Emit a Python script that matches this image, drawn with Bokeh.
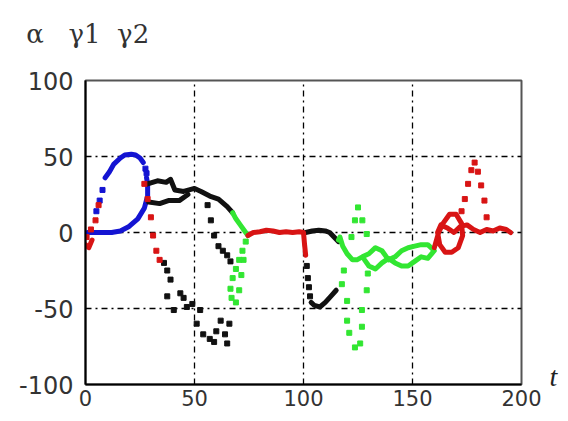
from bokeh.plotting import figure
from bokeh.models import Range1d, FixedTicker, LinearAxis
from bokeh.embed import file_html
from bokeh.resources import INLINE

# ---- data ----
x_ticks = [0, 50, 100, 150, 200]
y_ticks = [-100, -50, 0, 50, 100]
y_tick_labels = {-100: "-100", -50: "-50", 0: "0", 50: "50", 100: "100"}
title_text = "α\u00a0\u00a0 γ1\u00a0 γ2"
t_label = "t"

# blue trajectory
blue_t = [1, 6, 12, 16, 20, 24, 27, 28.5, 28.5, 28]
blue_y = [0, 0, 0, 1, 4, 9, 16, 24, 32, 36]
blue_top_t = [9, 11, 13, 16, 18, 21, 23, 25, 26.5]
blue_top_y = [36, 40, 45, 49, 51, 51.5, 51, 49, 46]
blue_dot_t = [5, 6.5, 7.8, 27.5, 28]
blue_dot_y = [14, 21, 28, 42, 39]

# red trajectory
red_start_t = [0, 1.5, 3]
red_start_y = [-8, -10, -5]
red_dot_t = [0.5, 2.5, 4.6, 6, 27, 28.5, 30, 31, 32.5, 34]
red_dot_y = [-3, 2, 8, 18, 32, 22, 10, -2, -12, -18]
red_mid_t = [74.5, 77, 80, 83, 86, 89, 92, 95, 98, 100, 100.5, 101]
red_mid_y = [-2, 0, 0.5, 1.5, 1, 0, 0.5, 0, 0.5, 0, -8, -15]
red_end_t = [160, 162, 164, 167, 170, 172.5, 173, 171, 168, 165, 162.5, 161.5,
             163, 166, 169, 172, 175, 178, 181, 184, 187, 190, 193, 195]
red_end_y = [-10, 0, 6, 12, 12, 6, -2, -10, -13, -13, -8, 0,
             5, 3, 0, 4, 5, 2, 0, 2, 1, 3, 2, 0]
red_spike_t = [172.5, 174, 175.5, 177, 178.5, 180, 181.5, 183, 184]
red_spike_y = [14, 22, 32, 41, 46, 40, 31, 21, 10]

# black trajectory
black_up_t = [28.5, 33, 37, 39, 41, 45, 50, 53, 57, 61, 65, 67.5]
black_up_y = [32, 34, 33, 35, 28, 27, 29, 27, 24, 22, 17, 13]
black_low_t = [29, 34, 38, 43, 47]
black_low_y = [20, 19, 21, 21, 25]
black_dot1_t = [56, 57.5, 59, 61, 63, 65, 66.5]
black_dot1_y = [18, 8, -2, -9, -12, -15, -19]
black_dot2_t = [36, 37.5, 39, 37.5, 40.5, 43.5, 45, 46.5, 49, 52.6, 51, 54, 57,
                59, 62, 64, 66, 65, 60]
black_dot2_y = [-20, -25, -31, -42, -51, -40, -43, -49, -47, -51, -60, -67, -70,
                -72, -58, -67, -60, -73, -65]
black_r_t = [101, 104, 107, 110, 112, 114, 116]
black_r_y = [0, 1, 1.5, 1, 0, -3, -6]
black_rdot_t = [101.5, 102, 102.5, 103]
black_rdot_y = [-22, -30, -36, -42]
black_rlow_t = [103.5, 105, 107.5, 110, 112.5, 115]
black_rlow_y = [-46, -48, -49, -46, -42, -38]

# green trajectory
green_a_t = [67.5, 69, 71, 73, 74.5]
green_a_y = [13, 9, 5, 1, -2]
green_a_dot_t = [73.5, 72, 70.5, 69, 67.5, 66.5, 67, 69, 70.5, 71.5, 72.5]
green_a_dot_y = [-6, -12, -18, -24, -30, -37, -43, -46, -38, -28, -18]
green_b_t = [116, 116.7, 118, 120, 122.5, 124.5, 127, 130, 133, 136, 139, 142,
             145, 148, 151, 154, 157, 160, 157, 154, 151, 148, 145, 142, 139,
             136, 133, 130, 128]
green_b_y = [-5, -3, -9, -14, -18, -18, -16, -14, -10, -12, -18, -16,
             -12, -10, -9, -8, -8, -12, -17, -16, -19, -22, -22, -20, -17,
             -20, -24, -22, -18]
green_b_dot_t = [122, 123.6, 125, 127, 129, 117.6, 118.5, 120, 120, 121, 123.6,
                 126, 126.8, 126.8, 129, 129.5]
green_b_dot_y = [-3, 8, 16.5, 8, -1, -34, -25, -45, -58, -66, -75.6,
                 -73, -62, -51, -38, -27]

BLUE = "#1414d2"
RED = "#d81414"
BLACK = "#111111"
GREEN = "#32e632"

p = figure(width=560, height=413, output_backend="svg", toolbar_location=None,
           x_range=Range1d(0, 200), y_range=Range1d(-100, 100),
           min_border_left=85, min_border_right=38, min_border_top=80,
           min_border_bottom=29)

p.background_fill_color = "white"
p.border_fill_color = "white"
p.outline_line_color = "#555555"
p.outline_line_width = 2

for ax in (p.xaxis[0], p.yaxis[0]):
    ax.axis_line_color = "black"
    ax.axis_line_width = 2
    ax.major_tick_out = 0
    ax.major_tick_in = 0
    ax.minor_tick_out = 0
    ax.minor_tick_in = 0
    ax.major_label_text_font = "DejaVu Sans"
    ax.major_label_text_color = "#333333"

p.xaxis[0].major_label_text_font_size = "21px"
p.yaxis[0].major_label_text_font_size = "24px"
p.xaxis[0].ticker = FixedTicker(ticks=x_ticks)
p.yaxis[0].ticker = FixedTicker(ticks=y_ticks)
p.yaxis[0].major_label_overrides = y_tick_labels
p.xaxis[0].major_label_standoff = 5
p.yaxis[0].major_label_standoff = 12

# right-side axis that only carries the "t" variable name near the bottom
t_axis = LinearAxis(ticker=FixedTicker(ticks=[-95]),
                    major_label_overrides={-95: t_label},
                    axis_line_alpha=0, major_tick_out=0, major_tick_in=0,
                    minor_tick_out=0, minor_tick_in=0,
                    major_label_standoff=28,
                    major_label_text_font="Liberation Serif",
                    major_label_text_font_style="italic",
                    major_label_text_font_size="28px",
                    major_label_text_color="#222222")
p.add_layout(t_axis, "right")

# top axis that only carries the variable names above the top-left corner
name_axis = LinearAxis(ticker=FixedTicker(ticks=[1]),
                       major_label_overrides={1: title_text},
                       axis_line_alpha=0, major_tick_out=0, major_tick_in=0,
                       minor_tick_out=0, minor_tick_in=0,
                       major_label_standoff=32,
                       major_label_text_font="DejaVu Serif",
                       major_label_text_font_size="26px",
                       major_label_text_color="#333333")
p.add_layout(name_axis, "above")

p.xgrid.grid_line_color = "black"
p.ygrid.grid_line_color = "black"
p.xgrid.grid_line_dash = "6 4 2 4"
p.ygrid.grid_line_dash = "6 4 2 4"
p.xgrid.grid_line_width = 1.3
p.ygrid.grid_line_width = 1.3
p.xgrid.ticker = FixedTicker(ticks=x_ticks)
p.ygrid.ticker = FixedTicker(ticks=y_ticks)

LW = 5

def solid(t, y, c):
    p.line(t, y, line_color=c, line_width=LW, line_cap="round", line_join="round")

def dots(t, y, c):
    p.scatter(t, y, marker="square", size=5, fill_color=c, line_color=c)

solid(blue_t, blue_y, BLUE)
solid(blue_top_t, blue_top_y, BLUE)
dots(blue_dot_t, blue_dot_y, BLUE)

solid(black_up_t, black_up_y, BLACK)
solid(black_low_t, black_low_y, BLACK)
dots(black_dot1_t, black_dot1_y, BLACK)
dots(black_dot2_t, black_dot2_y, BLACK)
solid(black_r_t, black_r_y, BLACK)
dots(black_rdot_t, black_rdot_y, BLACK)
solid(black_rlow_t, black_rlow_y, BLACK)

solid(green_a_t, green_a_y, GREEN)
dots(green_a_dot_t, green_a_dot_y, GREEN)
solid(green_b_t, green_b_y, GREEN)
dots(green_b_dot_t, green_b_dot_y, GREEN)

solid(red_start_t, red_start_y, RED)
dots(red_dot_t, red_dot_y, RED)
solid(red_mid_t, red_mid_y, RED)
solid(red_end_t, red_end_y, RED)
dots(red_spike_t, red_spike_y, RED)

open("out.html", "w").write(file_html(p, INLINE))
